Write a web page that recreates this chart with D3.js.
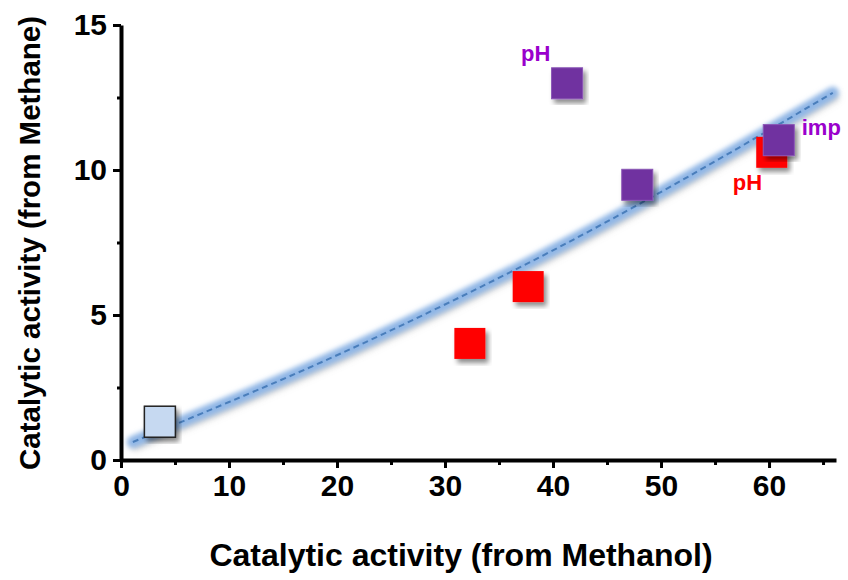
<!DOCTYPE html>
<html>
<head>
<meta charset="utf-8">
<script src="https://cdn.jsdelivr.net/npm/d3@7"></script>
<style>
  html, body { margin: 0; padding: 0; background: #fff; }
  svg { display: block; font-family: "Liberation Sans", Arial, sans-serif; font-weight: bold; }
</style>
</head>
<body>
<svg id="vis" width="848" height="580"></svg>
<script>

// points
const methanol = [3.6, 32.3, 37.7, 41.3, 47.8, 60.25, 60.9];
const methane  = [1.32, 4.02, 5.98, 12.99, 9.49, 10.61, 11.03];
const kinds    = ['ref', 'red', 'red', 'purple', 'purple', 'red', 'purple'];

// trend line
const fitX = [1.1, 10, 22.1, 38.8, 53.6, 65.9];
const fitY = [0.62, 2.0, 3.97, 7.0, 10.0, 12.66];

const xTicks = [0, 10, 20, 30, 40, 50, 60];
const yTicks = [0, 5, 10, 15];

const labels = [
    { text: 'pH',  x: 41.3,  y: 12.99, kind: 'purple', dx: -46, dy: -22 },
    { text: 'imp', x: 60.9,  y: 11.03, kind: 'purple', dx: 23,  dy: -5 },
    { text: 'pH',  x: 60.25, y: 10.61, kind: 'red',    dx: -39, dy: 38 }
];

const chart = {

    colors : {
        ref : '#c6d9f1',
        red : '#ff0000',
        purple : '#7030a0',
        label_red : '#ff0000',
        label_purple : '#9a00cc'
    },

    x : d3.scaleLinear().domain([0, 66.2]).range([121, 836]),
    y : d3.scaleLinear().domain([0, 15]).range([460, 25]),

    defs : function(svg) {

        let defs = svg.append('defs');

        let glow = defs.append('filter').attr('id', 'glow')
            .attr('x', '-10%').attr('y', '-10%').attr('width', '120%').attr('height', '120%');
        glow.append('feGaussianBlur').attr('stdDeviation', 2.4);

        let shade = defs.append('filter').attr('id', 'shade')
            .attr('x', '-20%').attr('y', '-20%').attr('width', '140%').attr('height', '140%');
        shade.append('feDropShadow')
            .attr('dx', 3).attr('dy', 4).attr('stdDeviation', 2.5)
            .attr('flood-color', '#000').attr('flood-opacity', 0.45);

        let lineShade = defs.append('filter').attr('id', 'lineshade')
            .attr('x', '-10%').attr('y', '-10%').attr('width', '120%').attr('height', '130%');
        lineShade.append('feGaussianBlur').attr('stdDeviation', 3);
    },

    axes : function(svg) {

        let x = chart.x, y = chart.y;

        // minor ticks first
        svg.append('g')
            .attr('transform', 'translate(0,460)')
            .call(d3.axisBottom(x).tickValues([5, 15, 25, 35, 45, 55, 65]).tickSize(5).tickFormat(''))
            .call(g => g.select('.domain').remove())
            .call(g => g.selectAll('line').attr('stroke-width', 3));

        svg.append('g')
            .attr('transform', 'translate(121,0)')
            .call(d3.axisLeft(y).tickValues([2.5, 7.5, 12.5]).tickSize(4).tickFormat(''))
            .call(g => g.select('.domain').remove())
            .call(g => g.selectAll('line').attr('stroke-width', 3));

        svg.append('g')
            .attr('transform', 'translate(0,460)')
            .call(d3.axisBottom(x).tickValues(xTicks).tickSize(8).tickSizeOuter(0).tickPadding(7))
            .call(g => g.select('.domain').attr('stroke-width', 4))
            .call(g => g.selectAll('line').attr('stroke-width', 3))
            .call(g => g.selectAll('text').attr('font-size', 30).attr('font-family', null).attr('fill', '#000'));

        svg.append('g')
            .attr('transform', 'translate(121,0)')
            .call(d3.axisLeft(y).tickValues(yTicks).tickSize(8).tickSizeOuter(0).tickPadding(6))
            .call(g => g.select('.domain').attr('stroke-width', 4))
            .call(g => g.selectAll('line').attr('stroke-width', 3))
            .call(g => g.selectAll('text').attr('font-size', 30).attr('font-family', null).attr('fill', '#000'));

        svg.append('text')
            .attr('x', 461).attr('y', 566)
            .attr('text-anchor', 'middle')
            .attr('font-size', 32)
            .text('Catalytic activity (from Methanol)');

        svg.append('text')
            .attr('transform', 'translate(40,243) rotate(-90)')
            .attr('text-anchor', 'middle')
            .attr('font-size', 29.5)
            .text('Catalytic activity (from Methane)');
    },

    fit : function(svg) {

        let pts = fitX.map((v, i) => [chart.x(v), chart.y(fitY[i])]);
        let line = d3.line().curve(d3.curveNatural);

        svg.append('path')
            .attr('d', line(pts))
            .attr('transform', 'translate(2,4)')
            .attr('fill', 'none')
            .attr('stroke', '#9a9a9a')
            .attr('stroke-opacity', 0.45)
            .attr('stroke-width', 9)
            .attr('stroke-linecap', 'round')
            .attr('filter', 'url(#lineshade)');

        svg.append('path')
            .attr('d', line(pts))
            .attr('fill', 'none')
            .attr('stroke', '#8fb6e6')
            .attr('stroke-width', 12)
            .attr('stroke-linecap', 'round')
            .attr('filter', 'url(#glow)');

        svg.append('path')
            .attr('d', line(pts))
            .attr('fill', 'none')
            .attr('stroke', '#4a7ebb')
            .attr('stroke-width', 2)
            .attr('stroke-dasharray', '6,4');
    },

    points : function(svg) {

        let s = 31;

        svg.append('g')
            .selectAll('rect')
            .data(methanol.map((v, i) => ({ x: v, y: methane[i], k: kinds[i] })))
            .join('rect')
            .attr('x', d => chart.x(d.x) - s / 2)
            .attr('y', d => chart.y(d.y) - s / 2)
            .attr('width', s)
            .attr('height', s)
            .attr('fill', d => chart.colors[d.k])
            .attr('stroke', d => d.k === 'ref' ? '#222' : d.k === 'purple' ? '#8a55b5' : 'none')
            .attr('stroke-width', d => d.k === 'ref' ? 1.5 : 1)
            .attr('filter', 'url(#shade)');

        svg.append('g')
            .selectAll('text')
            .data(labels)
            .join('text')
            .attr('x', d => chart.x(d.x) + d.dx)
            .attr('y', d => chart.y(d.y) + d.dy)
            .attr('font-size', 22)
            .attr('fill', d => chart.colors['label_' + d.kind])
            .text(d => d.text);
    },

    init : function() {

        let svg = d3.select('svg#vis');

        chart.defs(svg);
        chart.fit(svg);
        chart.points(svg);
        chart.axes(svg);
    }
};

chart.init();
</script>
</body>
</html>
